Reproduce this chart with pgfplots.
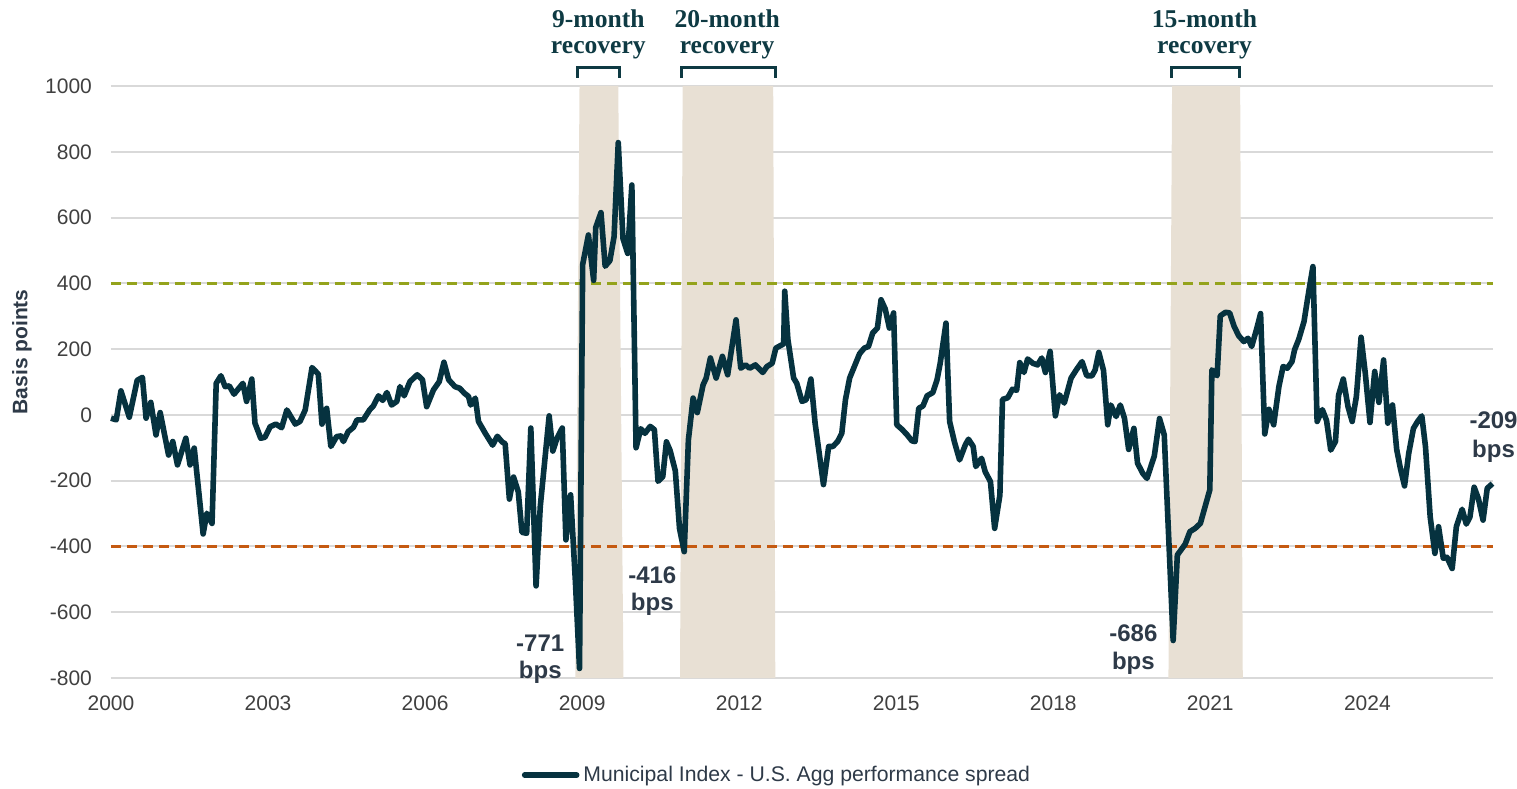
\documentclass[border=0pt]{standalone}
\usepackage{pgfplots}
\pgfplotsset{compat=1.18}
\usepackage{fontspec}
\setmainfont{Liberation Sans}
\newfontfamily\anfont{Liberation Serif}
\definecolor{lineC}{HTML}{06323F}
\definecolor{greenC}{HTML}{94A31C}
\definecolor{orangeC}{HTML}{C55A11}
\definecolor{shadeC}{HTML}{E8E0D4}
\definecolor{gridC}{HTML}{D9D9D9}
\definecolor{tickC}{HTML}{404040}
\definecolor{annC}{HTML}{2E3A48}
\definecolor{tealC}{HTML}{0E3A43}
\begin{document}
\begin{tikzpicture}
\path[use as bounding box] (-55.5pt,-55pt) rectangle (703pt,339pt);
\begin{axis}[
  at={(0,0)}, anchor=south west,
  scale only axis, width=691pt, height=296pt,
  xmin=2000, xmax=2026.4, ymin=-800, ymax=1000,
  clip=false,
  axis line style={draw=none},
  major tick length=0pt,
  xtick={2000,2003,...,2024},
  ytick={-800,-600,...,1000},
  ymajorgrids, grid style={gridC, line width=1pt},
  /pgf/number format/assume math mode=true,
  /pgf/number format/1000 sep={},
  tick label style={font=\fontsize{10.5}{12}\selectfont, text=tickC},
  yticklabel style={xshift=-6pt},
  xticklabel style={yshift=-5.5pt},
  legend style={at={(0.4826,-0.164)}, anchor=center, draw=none, fill=none,
    font=\fontsize{10.6}{12}\selectfont, text=annC},
  legend image code/.code={\draw[line width=2.8pt, line cap=round, lineC] (0pt,0pt) -- (26pt,0pt);},
]
% shaded recovery periods
\addplot[forget plot, fill=shadeC, draw=none] coordinates {(2008.87,-800) (2008.95,1000) (2009.69,1000) (2009.79,-800)} -- cycle;
\addplot[forget plot, fill=shadeC, draw=none] coordinates {(2010.87,-800) (2010.92,1000) (2012.65,1000) (2012.69,-800)} -- cycle;
\addplot[forget plot, fill=shadeC, draw=none] coordinates {(2020.20,-800) (2020.27,1000) (2021.57,1000) (2021.62,-800)} -- cycle;
% thresholds
\addplot[forget plot, greenC, line width=1.5pt, dash pattern=on 5pt off 3pt] coordinates {(2000,400) (2026.4,400)};
\addplot[forget plot, orangeC, line width=1.5pt, dash pattern=on 5pt off 3pt] coordinates {(2000,-400) (2026.4,-400)};
% main series
\addplot[lineC, line width=2.8pt, line join=round] table {
x y
2000.00 -10
2000.10 -15
2000.19 73
2000.35 -7
2000.50 105
2000.60 114
2000.67 -10
2000.76 38
2000.86 -61
2000.94 7
2001.10 -122
2001.18 -81
2001.27 -152
2001.43 -71
2001.51 -152
2001.59 -101
2001.76 -362
2001.83 -299
2001.93 -330
2002.01 96
2002.10 119
2002.18 86
2002.26 88
2002.35 63
2002.52 96
2002.59 41
2002.69 109
2002.75 -25
2002.86 -71
2002.94 -68
2003.04 -36
2003.15 -28
2003.26 -39
2003.36 15
2003.52 -28
2003.61 -20
2003.71 15
2003.84 144
2003.96 124
2004.03 -28
2004.12 20
2004.20 -96
2004.31 -66
2004.39 -64
2004.44 -81
2004.53 -51
2004.63 -38
2004.70 -15
2004.82 -15
2004.94 15
2005.01 27
2005.11 58
2005.19 44
2005.27 68
2005.36 30
2005.46 41
2005.52 86
2005.60 58
2005.71 101
2005.85 122
2005.95 107
2006.03 25
2006.16 76
2006.27 101
2006.36 160
2006.45 107
2006.57 86
2006.66 81
2006.75 66
2006.83 56
2006.87 30
2006.96 51
2007.02 -20
2007.15 -56
2007.29 -92
2007.38 -65
2007.47 -82
2007.53 -88
2007.61 -256
2007.69 -189
2007.78 -234
2007.85 -357
2007.94 -360
2008.02 -40
2008.12 -520
2008.20 -279
2008.37 -3
2008.44 -110
2008.52 -71
2008.62 -40
2008.69 -380
2008.78 -243
2008.87 -503
2008.95 -771
2009.01 457
2009.12 547
2009.22 409
2009.26 570
2009.36 615
2009.44 452
2009.53 469
2009.61 542
2009.69 828
2009.78 536
2009.87 491
2009.95 699
2010.03 -100
2010.12 -42
2010.20 -56
2010.30 -35
2010.38 -45
2010.45 -202
2010.54 -188
2010.61 -82
2010.68 -108
2010.78 -170
2010.86 -345
2010.95 -416
2011.03 -76
2011.12 51
2011.20 7
2011.31 91
2011.37 112
2011.45 173
2011.56 112
2011.68 178
2011.78 122
2011.94 289
2012.03 142
2012.12 152
2012.20 142
2012.31 152
2012.45 129
2012.53 147
2012.63 157
2012.70 203
2012.85 216
2012.87 376
2012.93 230
2013.04 112
2013.10 96
2013.20 41
2013.28 46
2013.37 109
2013.45 -25
2013.61 -212
2013.71 -96
2013.79 -96
2013.88 -81
2013.96 -56
2014.03 46
2014.11 112
2014.20 147
2014.30 186
2014.39 203
2014.47 208
2014.55 249
2014.64 264
2014.71 350
2014.79 322
2014.87 264
2014.95 310
2015.01 -30
2015.11 -44
2015.21 -61
2015.30 -79
2015.36 -81
2015.43 20
2015.51 27
2015.59 58
2015.70 68
2015.78 107
2015.84 157
2015.95 279
2016.02 -20
2016.11 -81
2016.21 -137
2016.32 -91
2016.38 -74
2016.47 -96
2016.52 -157
2016.63 -132
2016.70 -173
2016.80 -203
2016.88 -345
2016.98 -244
2017.03 47
2017.13 52
2017.22 78
2017.30 75
2017.36 159
2017.44 129
2017.51 170
2017.61 157
2017.70 152
2017.78 173
2017.85 129
2017.94 193
2018.04 -3
2018.12 61
2018.21 36
2018.34 112
2018.44 137
2018.55 162
2018.64 119
2018.74 119
2018.80 137
2018.87 190
2018.96 135
2019.04 -30
2019.10 30
2019.20 -5
2019.28 30
2019.36 -10
2019.44 -105
2019.54 -41
2019.61 -147
2019.71 -178
2019.79 -193
2019.93 -125
2020.03 -11
2020.12 -61
2020.29 -686
2020.37 -426
2020.52 -393
2020.61 -355
2020.71 -345
2020.81 -330
2020.99 -228
2021.03 137
2021.13 119
2021.19 301
2021.29 312
2021.37 310
2021.45 271
2021.54 241
2021.64 223
2021.72 233
2021.79 208
2021.89 264
2021.96 308
2022.04 -58
2022.12 17
2022.21 -30
2022.31 86
2022.39 147
2022.47 142
2022.56 162
2022.61 198
2022.69 230
2022.79 284
2022.86 355
2022.96 451
2023.04 -20
2023.14 16
2023.22 -17
2023.30 -107
2023.39 -81
2023.45 60
2023.54 109
2023.63 25
2023.71 -20
2023.79 56
2023.88 236
2023.96 127
2024.05 -23
2024.14 132
2024.22 38
2024.31 167
2024.39 -25
2024.48 30
2024.56 -105
2024.63 -162
2024.71 -216
2024.79 -117
2024.88 -41
2024.96 -20
2025.04 -3
2025.11 -96
2025.20 -310
2025.29 -421
2025.36 -340
2025.45 -436
2025.52 -433
2025.62 -467
2025.70 -340
2025.81 -287
2025.89 -332
2025.96 -310
2026.04 -220
2026.12 -254
2026.21 -320
2026.29 -223
2026.39 -209
};
\addlegendentry{Municipal Index - U.S. Agg performance spread}
% brackets
\draw[tealC, line width=1.5pt] (axis cs:2008.905,1025) |- (axis cs:2009.708,1055) -- (axis cs:2009.708,1025);
\draw[tealC, line width=1.5pt] (axis cs:2010.89,1025) |- (axis cs:2012.69,1055) -- (axis cs:2012.69,1025);
\draw[tealC, line width=1.5pt] (axis cs:2020.26,1025) |- (axis cs:2021.56,1055) -- (axis cs:2021.56,1025);
\node[font=\anfont\bfseries\fontsize{12.8}{13}\selectfont, align=center, text=tealC] at (axis cs:2009.31,1156) {9-month\\recovery};
\node[font=\anfont\bfseries\fontsize{12.8}{13}\selectfont, align=center, text=tealC] at (axis cs:2011.77,1156) {20-month\\recovery};
\node[font=\anfont\bfseries\fontsize{12.8}{13}\selectfont, align=center, text=tealC] at (axis cs:2020.89,1156) {15-month\\recovery};
% value annotations
\node[font=\bfseries\fontsize{12}{13.8}\selectfont, align=center, text=annC] at (axis cs:2008.20,-743) {-771\\bps};
\node[font=\bfseries\fontsize{12}{13.8}\selectfont, align=center, text=annC] at (axis cs:2010.34,-536) {-416\\bps};
\node[font=\bfseries\fontsize{12}{13.8}\selectfont, align=center, text=annC] at (axis cs:2019.53,-714) {-686\\bps};
\node[font=\bfseries\fontsize{12}{14.3}\selectfont, align=center, text=annC] at (axis cs:2026.41,-67) {-209\\bps};
% y label
\node[rotate=90, font=\bfseries\fontsize{10.5}{12}\selectfont, text=annC] at (axis cs:1998.30,191.5) {Basis points};
\end{axis}
\end{tikzpicture}
\end{document}
